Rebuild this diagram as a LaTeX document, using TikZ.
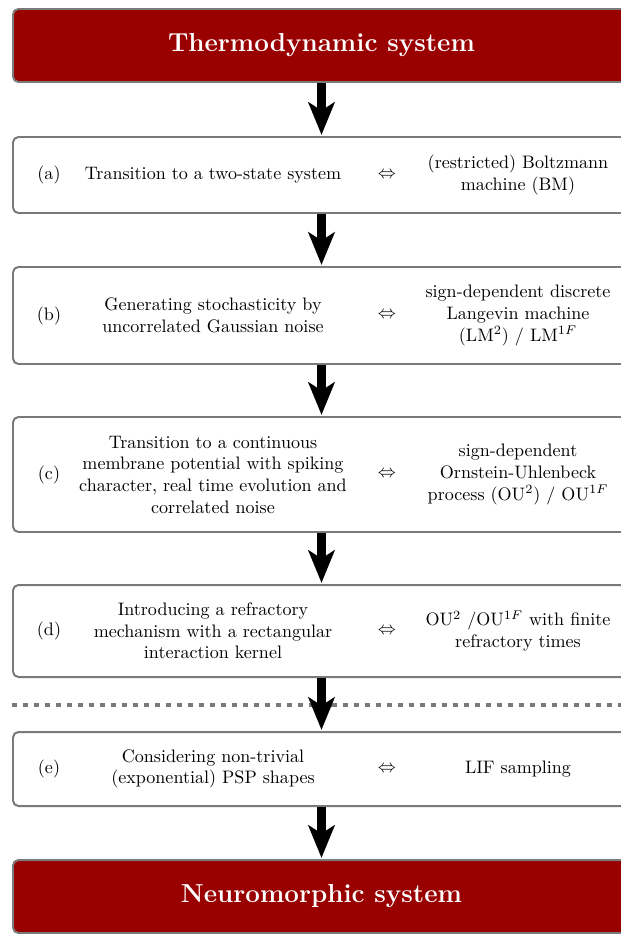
\documentclass[tikz,border=0pt]{standalone}
\usetikzlibrary{arrows.meta}
\definecolor{darkred}{HTML}{990000}
\definecolor{bordergray}{HTML}{7A7A7A}
\begin{document}
\begin{tikzpicture}[x=0.5537pt,y=-0.5537pt,
  stagebox/.style={draw=bordergray,line width=1.1pt,rounded corners=3pt,fill=white,
    minimum width=617*0.5537pt,inner sep=0pt},
  redbox/.style={stagebox,fill=darkred,text=white,font=\Large\bfseries},
  bigarrow/.style={line width=5.3pt,-{Stealth[length=18pt,width=14.5pt,inset=4.5pt]},shorten >=0.6pt},
  txt/.style={align=center,inner sep=0pt},
  dotline/.style={draw=bordergray,line width=2.2pt,dash pattern=on 2.8pt off 3.3pt}]
\useasboundingbox (0,0) rectangle (621,934);
% boxes
\node[redbox,minimum height=73*0.5537pt] (top) at (321.5,45.5) {Thermodynamic system};
\node[stagebox,minimum height=76*0.5537pt] (a) at (321.5,175) {};
\node[stagebox,minimum height=97*0.5537pt] (b) at (321.5,315.5) {};
\node[stagebox,minimum height=115*0.5537pt] (c) at (321.5,474.5) {};
\node[stagebox,minimum height=92*0.5537pt] (d) at (321.5,631) {};
\node[stagebox,minimum height=74*0.5537pt] (e) at (321.5,769) {};
\node[redbox,minimum height=73*0.5537pt] (bottom) at (321.5,896.5) {Neuromorphic system};
% (a)
\node[txt] (la) at (49,175) {(a)};
\node[txt] (ta) at (213,175) {Transition to a two-state system};
\node[txt] (ea) at (387,175) {$\Leftrightarrow$};
\node[txt] (ra) at (518,175) {(restricted) Boltzmann\\machine (BM)};
% (b)
\node[txt] (lb) at (49,315.5) {(b)};
\node[txt] (tb) at (213,315.5) {Generating stochasticity by\\uncorrelated Gaussian noise};
\node[txt] (eb) at (387,315.5) {$\Leftrightarrow$};
\node[txt] (rb) at (518,315.5) {sign-dependent discrete\\Langevin machine\\(LM$^2$) / LM$^{1F}$};
% (c)
\node[txt] (lc) at (49,474.5) {(c)};
\node[txt] (tc) at (213,474.5) {Transition to a continuous\\membrane potential with spiking\\character, real time evolution and\\correlated noise};
\node[txt] (ec) at (387,474.5) {$\Leftrightarrow$};
\node[txt] (rc) at (518,474.5) {sign-dependent\\Ornstein-Uhlenbeck\\process (OU$^2$) / OU$^{1F}$};
% (d)
\node[txt] (ld) at (49,631) {(d)};
\node[txt] (td) at (213,631) {Introducing a refractory\\mechanism with a rectangular\\interaction kernel};
\node[txt] (ed) at (387,631) {$\Leftrightarrow$};
\node[txt] (rd) at (518,631) {OU$^2$ /OU$^{1F}$ with finite\\refractory times};
% (e)
\node[txt] (le) at (49,769) {(e)};
\node[txt] (te) at (213,769) {Considering non-trivial\\(exponential) PSP shapes};
\node[txt] (ee) at (387,769) {$\Leftrightarrow$};
\node[txt] (re) at (518,769) {LIF sampling};
% dotted separator
\coordinate (dl) at (12,705);
\coordinate (dr) at (630,705);
\draw[dotline] (dl) -- (dr);
% arrows
\draw[bigarrow] (top.south) -- (a.north);
\draw[bigarrow] (a.south) -- (b.north);
\draw[bigarrow] (b.south) -- (c.north);
\draw[bigarrow] (c.south) -- (d.north);
\draw[bigarrow] (d.south) -- (e.north);
\draw[bigarrow] (e.south) -- (bottom.north);
\end{tikzpicture}
\end{document}
